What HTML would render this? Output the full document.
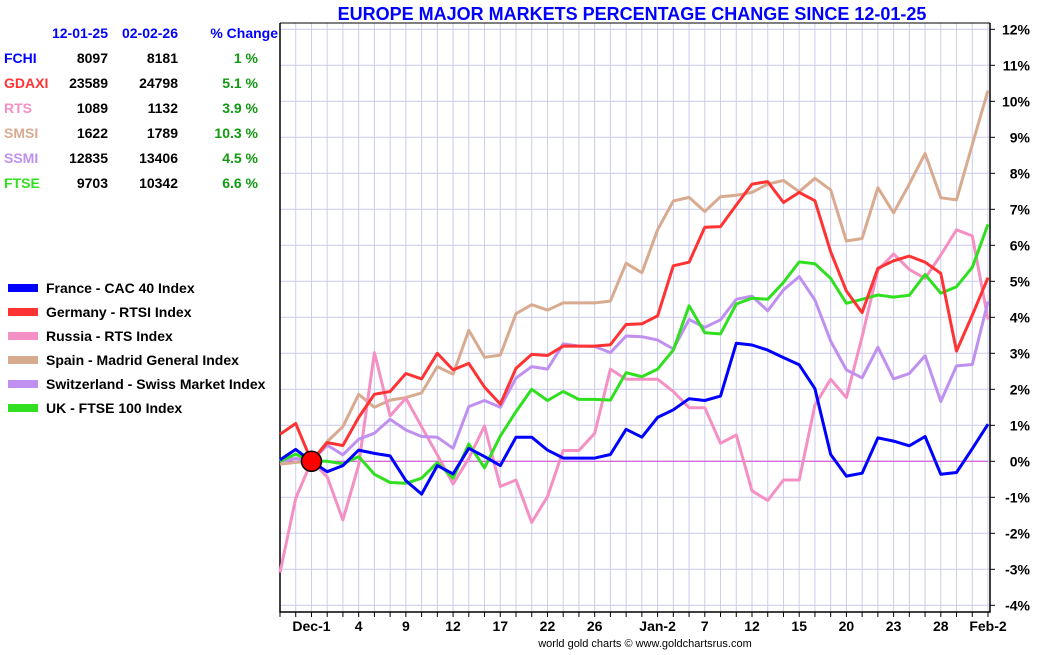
<!DOCTYPE html>
<html><head><meta charset="utf-8"><style>
body{margin:0;background:#fff;font-family:"Liberation Sans",sans-serif;}
svg text{font-family:"Liberation Sans",sans-serif;}
</style></head><body>
<svg id="c" width="1050" height="650" xmlns="http://www.w3.org/2000/svg"></svg>
<script>
const dates=["Nov-27","Nov-28","Dec-1","2","3","4","5","8","9","10","11","12","15","16","17","18","19","22","23","24","26","29","30","31","Jan-2","5","6","7","8","9","12","13","14","15","16","19","20","21","22","23","26","27","28","29","30","Feb-2"];
const tickIdx=[2,5,8,11,14,17,20,24,27,30,33,36,39,42,45];
const tickLabels=["Dec-1","4","9","12","17","22","26","Jan-2","7","12","15","20","23","28","Feb-2"];
const yTicks=[12,11,10,9,8,7,6,5,4,3,2,1,0,-1,-2,-3,-4];
const fchi=[0.04,0.33,0,-0.29,-0.12,0.31,0.22,0.15,-0.54,-0.91,-0.12,-0.35,0.36,0.13,-0.12,0.67,0.67,0.31,0.09,0.09,0.09,0.19,0.89,0.67,1.22,1.43,1.74,1.69,1.81,3.28,3.23,3.09,2.88,2.68,2.02,0.19,-0.41,-0.33,0.65,0.56,0.43,0.69,-0.36,-0.31,0.35,1.03];
const gdaxi=[0.75,1.05,0,0.52,0.44,1.22,1.86,1.94,2.44,2.29,3.0,2.54,2.72,2.06,1.59,2.58,2.97,2.94,3.2,3.2,3.2,3.24,3.8,3.82,4.04,5.43,5.53,6.5,6.52,7.12,7.7,7.77,7.19,7.47,7.24,5.82,4.73,4.13,5.36,5.57,5.7,5.53,5.22,3.06,4.06,5.1];
const rts=[-3.09,-1.03,0,-0.43,-1.63,-0.1,3.02,1.26,1.75,0.96,0.18,-0.63,0.08,0.98,-0.7,-0.52,-1.7,-0.98,0.3,0.3,0.78,2.56,2.28,2.28,2.28,1.94,1.49,1.49,0.5,0.73,-0.82,-1.09,-0.52,-0.52,1.56,2.28,1.77,3.46,5.31,5.76,5.33,5.08,5.73,6.43,6.26,3.94];
const smsi=[-0.08,-0.03,0,0.55,0.96,1.86,1.5,1.7,1.77,1.9,2.63,2.42,3.64,2.89,2.95,4.1,4.35,4.2,4.4,4.4,4.4,4.45,5.5,5.24,6.43,7.23,7.33,6.94,7.35,7.39,7.47,7.7,7.8,7.49,7.86,7.54,6.12,6.19,7.6,6.9,7.7,8.55,7.32,7.26,8.8,10.3];
const ssmi=[0,0.08,0,0.45,0.18,0.61,0.78,1.17,0.87,0.69,0.67,0.36,1.52,1.69,1.5,2.31,2.63,2.56,3.26,3.2,3.19,3.02,3.48,3.46,3.37,3.12,3.94,3.72,3.93,4.5,4.59,4.18,4.76,5.13,4.48,3.34,2.54,2.32,3.17,2.29,2.44,2.93,1.66,2.65,2.69,4.44];
const ftse=[0,0.2,0,0,-0.07,0.13,-0.36,-0.59,-0.61,-0.47,-0.04,-0.47,0.48,-0.18,0.7,1.38,2.0,1.69,1.94,1.72,1.72,1.7,2.46,2.35,2.56,3.09,4.32,3.57,3.54,4.37,4.53,4.5,4.97,5.54,5.49,5.08,4.39,4.5,4.62,4.56,4.61,5.19,4.67,4.85,5.39,6.58];
const seriesNames=["France - CAC 40 Index","Germany - RTSI Index","Russia - RTS Index","Spain - Madrid General Index","Switzerland - Swiss Market Index","UK - FTSE 100 Index"];
const codes=["FCHI","GDAXI","RTS","SMSI","SSMI","FTSE"];
const startVals=[8097,23589,1089,1622,12835,9703];
const endVals=[8181,24798,1132,1789,13406,10342];
const pctChg=["1 %","5.1 %","3.9 %","10.3 %","4.5 %","6.6 %"];
const colors=["#0000ff","#ff3333","#f490c4","#d8ab90","#c090f0","#30e020"];
const allSeries=[fchi,gdaxi,rts,smsi,ssmi,ftse];

const svg=document.getElementById('c');
const NS="http://www.w3.org/2000/svg";
const L=280,R=988,T=23,B=612,STEP=(R-L)/45;
const X=i=>L+i*STEP;
const Y=v=>461.3-v*36;
function mk(tag,attrs,txt){const e=document.createElementNS(NS,tag);for(const k in attrs)e.setAttribute(k,attrs[k]);if(txt!=null)e.textContent=txt;svg.appendChild(e);return e;}

// grid
for(let i=0;i<dates.length;i++){
  const g=mk('line',{x1:X(i),x2:X(i),y1:T,y2:B,stroke:'#ccccee','stroke-width':1});
  
  
  const t=mk('line',{x1:X(i),x2:X(i),y1:B,y2:B+5,stroke:'#000','stroke-width':1});
  
  
}
yTicks.forEach(v=>{
  const g=mk('line',{x1:L,x2:R+2,y1:Y(v),y2:Y(v),stroke:'#ccccee','stroke-width':1});
  
  
  const t=mk('line',{x1:R+2,x2:R+7,y1:Y(v),y2:Y(v),stroke:'#000','stroke-width':1});
  
  
  const l=mk('text',{x:1030,y:Y(v)+5,'text-anchor':'end','font-size':14,'font-weight':'bold',fill:'#000'},v+'%');
  
  
});
const z=mk('line',{x1:L,x2:R,y1:Y(0),y2:Y(0),stroke:'#d040d0','stroke-width':1});


// axes
const ax=mk('path',{d:`M${L},${T}V${B}H${R+2}V${T}`,fill:'none',stroke:'#000','stroke-width':1.5});


const topL=mk('line',{x1:L,x2:R+2,y1:T,y2:T,stroke:'#000','stroke-width':1});


tickIdx.forEach((ix,k)=>{
  const l=mk('text',{x:X(ix),y:631,'text-anchor':'middle','font-size':14,'font-weight':'bold',fill:'#000'},tickLabels[k]);
  
  
});
// series
const order=[3,2,4,5,1,0];
order.forEach(s=>{
  const d=allSeries[s].map((v,i)=>(i?'L':'M')+X(i).toFixed(1)+','+Y(v).toFixed(1)).join('');
  const p=mk('path',{d:d,fill:'none',stroke:colors[s],'stroke-width':3,'stroke-linejoin':'round'});
  
  
});
const m=mk('circle',{cx:X(2),cy:Y(0),r:10,fill:'#ff0000',stroke:'#000','stroke-width':1.5});


// title & footer
const ti=mk('text',{x:632,y:20,'text-anchor':'middle','font-size':18,'font-weight':'bold',fill:'#0000ff'},'EUROPE MAJOR MARKETS PERCENTAGE CHANGE SINCE 12-01-25');


const ft=mk('text',{x:645,y:647,'text-anchor':'middle','font-size':11,fill:'#000'},'world gold charts © www.goldchartsrus.com');


// table
[["12-01-25",108],["02-02-26",178],["% Change",278]].forEach(h=>{
  const e=mk('text',{x:h[1],y:38,'text-anchor':'end','font-size':14,'font-weight':'bold',fill:'#0000ff'},h[0]);
  
  
});
codes.forEach((c,k)=>{
  const y=63+k*25;
  const a=mk('text',{x:4,y:y,'font-size':14,'font-weight':'bold',fill:colors[k]},c);
  
  
  const b=mk('text',{x:108,y:y,'text-anchor':'end','font-size':14,'font-weight':'bold',fill:'#000'},startVals[k]);
  
  
  const c2=mk('text',{x:178,y:y,'text-anchor':'end','font-size':14,'font-weight':'bold',fill:'#000'},endVals[k]);
  
  
  const d=mk('text',{x:258,y:y,'text-anchor':'end','font-size':14,'font-weight':'bold',fill:'#119911'},pctChg[k]);
  
  
});
// legend
seriesNames.forEach((n,k)=>{
  const y=288+k*24;
  const r=mk('rect',{x:8,y:y-4,width:30,height:8,fill:colors[k]});
  
  
  const t=mk('text',{x:46,y:y+5,'font-size':14,'font-weight':'bold',fill:'#000'},n);
  
  
});
</script>
</body></html>
